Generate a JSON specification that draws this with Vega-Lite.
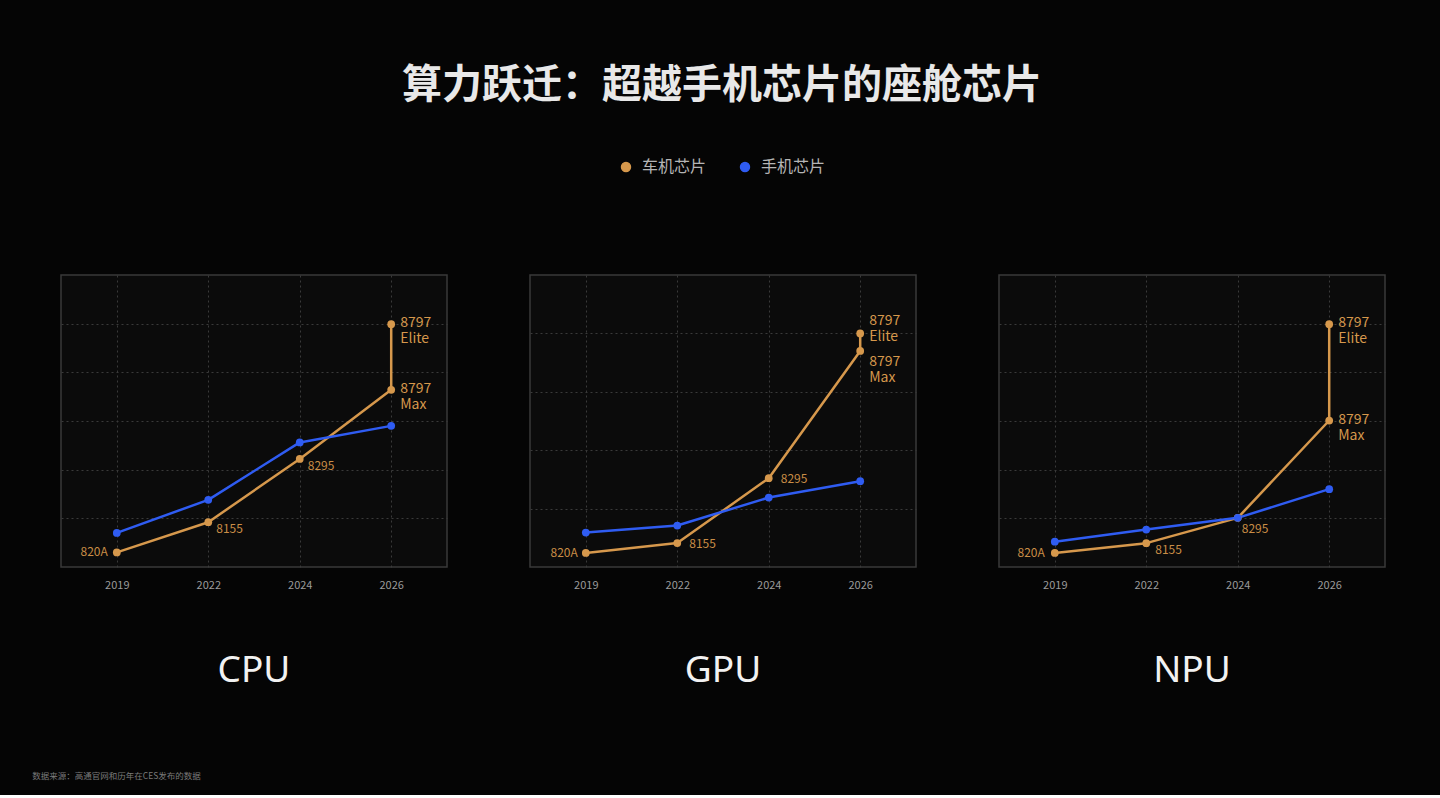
{
  "$schema": "https://vega.github.io/schema/vega-lite/v6.json",
  "background": "#050505",
  "padding": {"left": 32, "right": 56, "top": 66, "bottom": 14},
  "title": {
    "text": "算力跃迁：超越手机芯片的座舱芯片",
    "anchor": "middle",
    "dx": 13,
    "fontSize": 40,
    "fontWeight": "bold",
    "color": "#e8e8e8",
    "font": "Noto Sans CJK SC",
    "offset": 53
  },
  "datasets": {
    "chips": [
      {"chip": "CPU", "series": "车机芯片", "year": "2019", "v": 0.30, "label": "820A", "seq": 1},
      {"chip": "CPU", "series": "车机芯片", "year": "2022", "v": 0.92, "label": "8155", "seq": 2},
      {"chip": "CPU", "series": "车机芯片", "year": "2024", "v": 2.22, "label": "8295", "seq": 3},
      {"chip": "CPU", "series": "车机芯片", "year": "2026", "v": 3.64, "label": "8797\nMax", "seq": 4},
      {"chip": "CPU", "series": "车机芯片", "year": "2026", "v": 4.99, "label": "8797\nElite", "seq": 5},
      {"chip": "CPU", "series": "手机芯片", "year": "2019", "v": 0.70, "label": null, "seq": 1},
      {"chip": "CPU", "series": "手机芯片", "year": "2022", "v": 1.38, "label": null, "seq": 2},
      {"chip": "CPU", "series": "手机芯片", "year": "2024", "v": 2.56, "label": null, "seq": 3},
      {"chip": "CPU", "series": "手机芯片", "year": "2026", "v": 2.90, "label": null, "seq": 4},
      {"chip": "GPU", "series": "车机芯片", "year": "2019", "v": 0.24, "label": "820A", "seq": 1},
      {"chip": "GPU", "series": "车机芯片", "year": "2022", "v": 0.41, "label": "8155", "seq": 2},
      {"chip": "GPU", "series": "车机芯片", "year": "2024", "v": 1.52, "label": "8295", "seq": 3},
      {"chip": "GPU", "series": "车机芯片", "year": "2026", "v": 3.70, "label": "8797\nMax", "seq": 4},
      {"chip": "GPU", "series": "车机芯片", "year": "2026", "v": 4.00, "label": "8797\nElite", "seq": 5},
      {"chip": "GPU", "series": "手机芯片", "year": "2019", "v": 0.59, "label": null, "seq": 1},
      {"chip": "GPU", "series": "手机芯片", "year": "2022", "v": 0.71, "label": null, "seq": 2},
      {"chip": "GPU", "series": "手机芯片", "year": "2024", "v": 1.19, "label": null, "seq": 3},
      {"chip": "GPU", "series": "手机芯片", "year": "2026", "v": 1.47, "label": null, "seq": 4},
      {"chip": "NPU", "series": "车机芯片", "year": "2019", "v": 0.29, "label": "820A", "seq": 1},
      {"chip": "NPU", "series": "车机芯片", "year": "2022", "v": 0.49, "label": "8155", "seq": 2},
      {"chip": "NPU", "series": "车机芯片", "year": "2024", "v": 1.01, "label": "8295", "seq": 3},
      {"chip": "NPU", "series": "车机芯片", "year": "2026", "v": 3.01, "label": "8797\nMax", "seq": 4},
      {"chip": "NPU", "series": "车机芯片", "year": "2026", "v": 4.99, "label": "8797\nElite", "seq": 5},
      {"chip": "NPU", "series": "手机芯片", "year": "2019", "v": 0.52, "label": null, "seq": 1},
      {"chip": "NPU", "series": "手机芯片", "year": "2022", "v": 0.77, "label": null, "seq": 2},
      {"chip": "NPU", "series": "手机芯片", "year": "2024", "v": 1.01, "label": null, "seq": 3},
      {"chip": "NPU", "series": "手机芯片", "year": "2026", "v": 1.60, "label": null, "seq": 4}
    ]
  },
  "vconcat": [
    {
      "title": {
        "text": "数据来源：高通官网和历年在CES发布的数据",
        "orient": "bottom",
        "anchor": "start",
        "dx": -28,
        "offset": 82,
        "fontSize": 8.5,
        "fontWeight": "normal",
        "color": "#7a7a7a",
        "font": "Noto Sans CJK SC"
      },
      "spacing": 81,
      "hconcat": [
        {
          "width": 386,
          "height": 292,
          "title": {"text": "CPU", "orient": "bottom", "offset": 63, "fontSize": 37, "fontWeight": "normal", "color": "#f2f2f2", "font": "Noto Sans"},
          "data": {"name": "chips"},
          "transform": [{"filter": "datum.chip === 'CPU'"}],
          "encoding": {
            "x": {"field": "year", "type": "ordinal", "scale": {"type": "point", "padding": 0.61}},
            "y": {"field": "v", "type": "quantitative", "scale": {"domain": [0, 6]}, "axis": {"values": [1, 2, 3, 4, 5]}}
          },
          "layer": [
            {
              "mark": {"type": "line", "strokeWidth": 2.5},
              "encoding": {
                "color": {"field": "series", "type": "nominal", "scale": {"domain": ["车机芯片", "手机芯片"], "range": ["#d6984c", "#2f5cf2"]},
                  "legend": {"orient": "none", "legendX": 557, "legendY": -116, "direction": "horizontal", "title": null}},
                "order": {"field": "seq"}
              }
            },
            {
              "mark": {"type": "point", "filled": true, "size": 60, "opacity": 1},
              "encoding": {"color": {"field": "series", "type": "nominal"}}
            },
            {
              "transform": [{"filter": "datum.label === '820A'"}],
              "mark": {"type": "text", "align": "right", "baseline": "middle", "dx": -9, "fontSize": 12, "color": "#c98d46"},
              "encoding": {"text": {"field": "label"}}
            },
            {
              "transform": [{"filter": "datum.label === '8155' || datum.label === '8295'"}],
              "mark": {"type": "text", "align": "left", "baseline": "middle", "dx": 8, "dy": 7, "fontSize": 12, "color": "#c98d46"},
              "encoding": {"text": {"field": "label"}}
            },
            {
              "transform": [{"filter": "datum.seq >= 4 && datum.series === '车机芯片'"}],
              "mark": {"type": "text", "align": "left", "baseline": "middle", "dx": 9, "dy": -1, "fontSize": 14, "lineHeight": 16, "lineBreak": "\n", "color": "#d6984c"},
              "encoding": {"text": {"field": "label"}}
            }
          ]
        },
        {
          "width": 386,
          "height": 292,
          "title": {"text": "GPU", "orient": "bottom", "offset": 63, "fontSize": 37, "fontWeight": "normal", "color": "#f2f2f2", "font": "Noto Sans"},
          "data": {"name": "chips"},
          "transform": [{"filter": "datum.chip === 'GPU'"}],
          "encoding": {
            "x": {"field": "year", "type": "ordinal", "scale": {"type": "point", "padding": 0.61}},
            "y": {"field": "v", "type": "quantitative", "scale": {"domain": [0, 5]}, "axis": {"values": [1, 2, 3, 4]}}
          },
          "layer": [
            {
              "mark": {"type": "line", "strokeWidth": 2.5},
              "encoding": {"color": {"field": "series", "type": "nominal"}, "order": {"field": "seq"}}
            },
            {
              "mark": {"type": "point", "filled": true, "size": 60, "opacity": 1},
              "encoding": {"color": {"field": "series", "type": "nominal"}}
            },
            {
              "transform": [{"filter": "datum.label === '820A'"}],
              "mark": {"type": "text", "align": "right", "baseline": "middle", "dx": -8, "fontSize": 12, "color": "#c98d46"},
              "encoding": {"text": {"field": "label"}}
            },
            {
              "transform": [{"filter": "datum.label === '8155' || datum.label === '8295'"}],
              "mark": {"type": "text", "align": "left", "baseline": "middle", "dx": 12, "dy": 1, "fontSize": 12, "color": "#c98d46"},
              "encoding": {"text": {"field": "label"}}
            },
            {
              "transform": [{"filter": "datum.seq === 5"}],
              "mark": {"type": "text", "align": "left", "baseline": "middle", "dx": 9, "dy": -12, "fontSize": 14, "lineHeight": 16, "lineBreak": "\n", "color": "#d6984c"},
              "encoding": {"text": {"field": "label"}}
            },
            {
              "transform": [{"filter": "datum.seq === 4 && datum.series === '车机芯片'"}],
              "mark": {"type": "text", "align": "left", "baseline": "middle", "dx": 9, "dy": 11, "fontSize": 14, "lineHeight": 16, "lineBreak": "\n", "color": "#d6984c"},
              "encoding": {"text": {"field": "label"}}
            }
          ]
        },
        {
          "width": 386,
          "height": 292,
          "title": {"text": "NPU", "orient": "bottom", "offset": 63, "fontSize": 37, "fontWeight": "normal", "color": "#f2f2f2", "font": "Noto Sans"},
          "data": {"name": "chips"},
          "transform": [{"filter": "datum.chip === 'NPU'"}],
          "encoding": {
            "x": {"field": "year", "type": "ordinal", "scale": {"type": "point", "padding": 0.61}},
            "y": {"field": "v", "type": "quantitative", "scale": {"domain": [0, 6]}, "axis": {"values": [1, 2, 3, 4, 5]}}
          },
          "layer": [
            {
              "mark": {"type": "line", "strokeWidth": 2.5},
              "encoding": {"color": {"field": "series", "type": "nominal"}, "order": {"field": "seq"}}
            },
            {
              "mark": {"type": "point", "filled": true, "size": 60, "opacity": 1},
              "encoding": {"color": {"field": "series", "type": "nominal"}}
            },
            {
              "transform": [{"filter": "datum.label === '820A'"}],
              "mark": {"type": "text", "align": "right", "baseline": "middle", "dx": -10, "fontSize": 12, "color": "#c98d46"},
              "encoding": {"text": {"field": "label"}}
            },
            {
              "transform": [{"filter": "datum.label === '8155'"}],
              "mark": {"type": "text", "align": "left", "baseline": "middle", "dx": 9, "dy": 7, "fontSize": 12, "color": "#c98d46"},
              "encoding": {"text": {"field": "label"}}
            },
            {
              "transform": [{"filter": "datum.label === '8295'"}],
              "mark": {"type": "text", "align": "left", "baseline": "middle", "dx": 4, "dy": 11, "fontSize": 12, "color": "#c98d46"},
              "encoding": {"text": {"field": "label"}}
            },
            {
              "transform": [{"filter": "datum.seq >= 4 && datum.series === '车机芯片'"}],
              "mark": {"type": "text", "align": "left", "baseline": "middle", "dx": 9, "dy": -1, "fontSize": 14, "lineHeight": 16, "lineBreak": "\n", "color": "#d6984c"},
              "encoding": {"text": {"field": "label"}}
            }
          ]
        }
      ]
    }
  ],
  "config": {
    "font": "Noto Sans CJK SC",
    "view": {"stroke": "#3a3a3a", "strokeWidth": 1.5, "fill": "#0b0b0b"},
    "axis": {"grid": true, "gridColor": "#3a3a3a", "gridDash": [2, 3], "gridWidth": 1, "ticks": false, "domain": false, "title": null},
    "axisX": {"labelColor": "#9b9b9b", "labelFontSize": 11, "labelPadding": 12, "labelAngle": 0},
    "axisY": {"labels": false},
    "legend": {"symbolType": "circle", "symbolSize": 80, "labelFontSize": 16, "labelColor": "#b5b5b5", "labelOffset": 8, "columnPadding": 30},
    "line": {"strokeCap": "round", "strokeJoin": "round"}
  }
}
